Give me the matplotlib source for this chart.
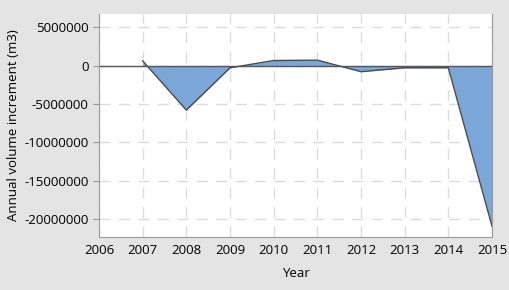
import matplotlib.pyplot as plt
import numpy as np

plt.rcParams['font.family'] = ['Open Sans', 'DejaVu Sans']

# Values
years = [2007, 2008, 2009, 2010, 2011, 2012, 2013, 2014, 2015]
increment = [600000, -5800000, -300000, 650000, 700000, -800000, -300000, -300000, -20900000]

fig = plt.figure(figsize=(5.1, 2.9), dpi=100, facecolor='#e4e4e4')
ax = fig.add_axes([99 / 510, 1 - 237 / 290, 393 / 510, 223 / 290])
ax.set_facecolor('white')

x = np.array(years)
y = np.array(increment)
ax.fill_between(x, y, 0, color='#7ba6d8', linewidth=0)
ax.plot(x, y, color='#4a4a4a', linewidth=1.0)
ax.axhline(0, color='#555555', linewidth=1.0)

ax.set_xlim(2006, 2015)
ax.set_ylim(-22300000, 6700000)
ax.set_xticks(range(2006, 2016))
ax.set_yticks([5000000, 0, -5000000, -10000000, -15000000, -20000000])
ax.set_yticklabels(['5000000', '0', '-5000000', '-10000000', '-15000000', '-20000000'])

ax.grid(True, color='#dcdcdc', linestyle=(0, (8, 6)), linewidth=1)
ax.set_axisbelow(True)

for side in ['left', 'bottom', 'right']:
    ax.spines[side].set_color('#999999')
ax.spines['top'].set_visible(False)
ax.tick_params(axis='both', colors='#999999', labelcolor='black', labelsize=9.5, length=4)
ax.tick_params(axis='x', length=0, pad=5)

ax.set_xlabel('Year', fontsize=9.5, labelpad=7)
ax.set_ylabel('Annual volume increment (m3)', fontsize=9.5, labelpad=3)

fig.savefig('out.png', dpi=100, facecolor=fig.get_facecolor())
